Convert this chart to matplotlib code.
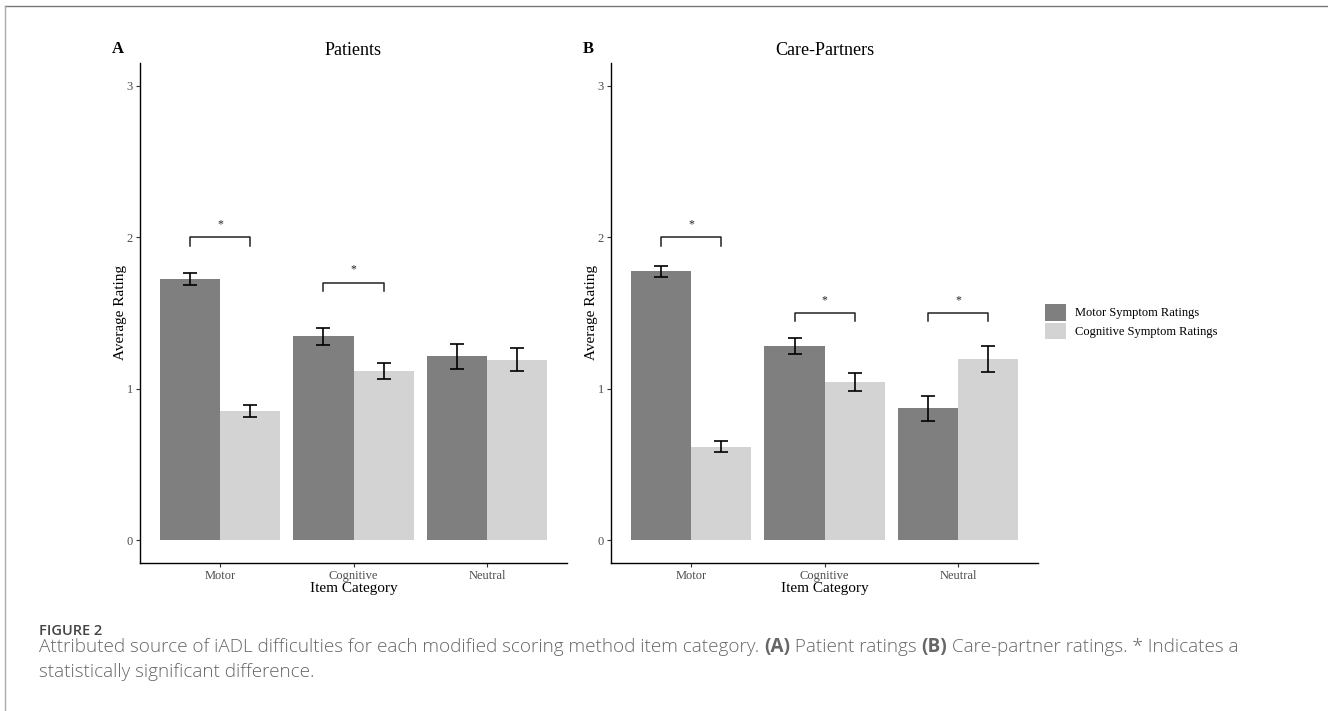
import matplotlib
matplotlib.use("Agg")
import numpy as np
import matplotlib.pyplot as plt
from matplotlib.lines import Line2D
from matplotlib.patches import Patch

categories = ["Motor", "Cognitive", "Neutral"]
series_names = ["Motor Symptom Ratings", "Cognitive Symptom Ratings"]

pat_motor = [1.725, 1.347, 1.215]
pat_motor_se = [0.038, 0.057, 0.082]
pat_cog = [0.852, 1.116, 1.191]
pat_cog_se = [0.038, 0.055, 0.075]

cp_motor = [1.775, 1.283, 0.872]
cp_motor_se = [0.037, 0.055, 0.083]
cp_cog = [0.617, 1.044, 1.195]
cp_cog_se = [0.037, 0.057, 0.084]

# (category index, bracket height)
pat_sig = [(0, 2.0), (1, 1.70)]
cp_sig = [(0, 2.0), (1, 1.50), (2, 1.50)]

yticks = [0, 1, 2, 3]

DARK = "#7f7f7f"
LIGHT = "#d3d3d3"
TICKC = "#4d4d4d"
SERIF = ["Liberation Serif", "DejaVu Serif"]

plt.rcParams["font.family"] = SERIF

fig = plt.figure(figsize=(13.28, 7.11), dpi=100)


def draw_panel(ax, motor, motor_se, cog, cog_se, sig, title, letter):
    x = np.arange(len(categories))
    w = 0.45
    ax.bar(x - w / 2, motor, width=w, color=DARK, linewidth=0)
    ax.bar(x + w / 2, cog, width=w, color=LIGHT, linewidth=0)
    ax.errorbar(x - w / 2, motor, yerr=motor_se, fmt="none", ecolor="black",
                elinewidth=1.2, capsize=4.7, capthick=1.2)
    ax.errorbar(x + w / 2, cog, yerr=cog_se, fmt="none", ecolor="black",
                elinewidth=1.2, capsize=4.7, capthick=1.2)

    for i, h in sig:
        x0, x1 = i - w / 2, i + w / 2
        ax.plot([x0, x0, x1, x1], [h - 0.055, h, h, h - 0.055], color="#222222", lw=1.1)
        ax.text(i, h + 0.085, "*", ha="center", va="center", fontsize=8.5, color="#222222")

    ax.set_xlim(-0.6, len(categories) - 0.4)
    ax.set_ylim(-0.15, 3.15)
    ax.set_xticks(x)
    ax.set_xticklabels(categories)
    ax.set_yticks(yticks)
    ax.tick_params(colors="#333333", labelcolor=TICKC, labelsize=9, length=3, width=0.8, pad=2)
    for s in ["top", "right"]:
        ax.spines[s].set_visible(False)
    for s in ["left", "bottom"]:
        ax.spines[s].set_linewidth(1.0)
    ax.set_xlabel("Item Category", fontsize=11, labelpad=0)
    ax.set_ylabel("Average Rating", fontsize=11, labelpad=0)
    ax.set_title(title, fontsize=13, pad=6)
    ax.text(-0.065, 1 + 14 / 500, letter, transform=ax.transAxes, fontsize=12,
            fontweight="bold", ha="left", va="center")


ax1 = fig.add_axes([0.1054, 0.2082, 0.3216, 0.7032])
ax2 = fig.add_axes([0.4601, 0.2082, 0.3216, 0.7032])
draw_panel(ax1, pat_motor, pat_motor_se, pat_cog, pat_cog_se, pat_sig, "Patients", "A")
draw_panel(ax2, cp_motor, cp_motor_se, cp_cog, cp_cog_se, cp_sig, "Care-Partners", "B")

handles = [Patch(facecolor=DARK, edgecolor="none"), Patch(facecolor=LIGHT, edgecolor="none")]
fig.legend(handles, series_names, loc="center left", bbox_to_anchor=(1045 / 1328, 1 - 321.5 / 711),
           frameon=False, fontsize=9, handlelength=1.7, handleheight=1.7,
           labelspacing=0.16, handletextpad=0.72, borderpad=0, borderaxespad=0)

# frame around the figure block
fig.add_artist(Line2D([5 / 1328, 1], [1 - 6 / 711, 1 - 6 / 711], color="#777777", lw=1.0))
fig.add_artist(Line2D([5 / 1328, 5 / 1328], [0, 1 - 6 / 711], color="#aaaaaa", lw=1.0))

# caption
cap_font = ["Open Sans", "DejaVu Sans"]
fig.text(39 / 1328, 1 - 635 / 711, "FIGURE 2", fontsize=10.5, family=cap_font,
         color="#444444", va="baseline", fontweight="semibold")

fig.canvas.draw()
renderer = fig.canvas.get_renderer()


def write_segments(x_px, y_px, segments, size=13.6):
    for txt, bold in segments:
        t = fig.text(x_px / 1328, 1 - y_px / 711, txt, fontsize=size, family=cap_font,
                     color="#666666", va="baseline", fontweight="bold" if bold else "light")
        bb = t.get_window_extent(renderer)
        x_px += bb.width


write_segments(39, 652, [
    ("Attributed source of iADL difficulties for each modified scoring method item category. ", False),
    ("(A)", True), (" Patient ratings ", False), ("(B)", True),
    (" Care-partner ratings. * Indicates a", False),
])
write_segments(39, 677, [("statistically significant difference.", False)])

fig.savefig("out.png", dpi=100)
